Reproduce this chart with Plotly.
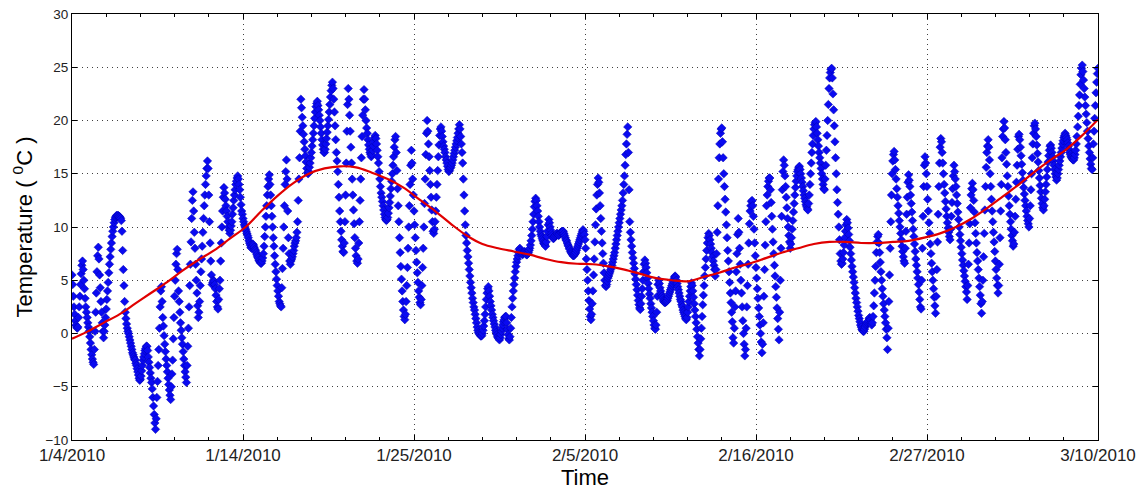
import pandas as pd
import plotly.graph_objects as go

# ---------------- data ----------------
START = "2010-01-04"

# hourly temperature readings (deg C), one row of 24 per day, 1/4/2010 .. 3/9/2010, plus 3/10 00:00
temp_days = [
    [5.5,4.6,3.5,2.5,1.8,1.2,0.8,0.6,0.5,0.6,1.5,2.5,3.5,4.6,5.6,6.4,6.8,6.0,5.0,4.2,3.3,2.5,2.0,1.5],
    [1.0,0.6,0.2,-0.3,-0.9,-1.5,-2.0,-2.4,-2.7,-2.9,-1.5,0.2,2.0,3.8,5.8,7.3,8.1,7.0,5.5,4.3,3.0,2.0,1.0,0.2],
    [-0.4,0.2,0.8,1.5,2.3,3.2,4.0,4.8,5.7,6.5,7.2,7.9,8.5,9.1,9.6,10.0,10.4,10.7,10.9,11.0,11.1,11.0,11.1,11.0],
    [11.0,10.9,10.8,10.6,9.6,7.8,6.0,4.5,3.0,2.0,1.4,0.9,0.5,0.2,0.0,-0.3,-0.6,-0.9,-1.2,-1.5,-1.8,-2.0,-2.2,-2.4],
    [-2.5,-2.8,-3.0,-3.3,-3.6,-3.9,-4.2,-4.4,-4.3,-4.0,-3.5,-3.0,-2.5,-2.2,-1.9,-1.6,-1.4,-1.2,-1.2,-1.6,-2.2,-2.7,-3.2,-3.7],
    [-4.2,-4.6,-5.2,-6.0,-6.8,-7.6,-8.4,-9.0,-8.0,-6.0,-4.5,-3.0,-1.5,0.5,2.5,4.0,4.4,3.0,1.5,0.7,-0.2,-1.0,-1.7,-2.4],
    [-3.0,-3.6,-4.2,-4.8,-5.3,-5.8,-6.2,-5.0,-3.8,-2.5,-0.5,1.5,3.5,5.0,6.5,7.5,7.9,6.0,4.0,3.0,2.0,1.0,0.3,-0.4],
    [-1.0,-1.7,-2.4,-3.0,-3.6,-4.1,-4.6,-3.0,-1.2,0.5,2.5,4.5,6.5,8.6,10.8,12.5,13.3,11.5,9.5,8.0,6.5,5.0,3.8,2.6],
    [1.5,2.0,3.0,4.5,5.8,7.0,8.2,9.5,10.8,12.0,13.0,14.0,14.8,15.5,16.2,15.5,13.0,10.5,8.5,6.8,5.5,4.6,4.8,5.0],
    [4.9,4.6,4.2,3.6,3.0,2.5,2.3,3.2,4.2,5.0,6.8,8.5,10.0,11.5,12.8,13.7,13.2,12.6,12.0,11.5,11.0,10.5,10.0,9.7],
    [9.4,9.7,10.1,10.5,11.2,11.8,12.5,13.0,13.5,14.0,14.3,14.6,14.8,14.5,14.0,13.5,12.8,12.1,11.5,11.2,10.8,10.5,10.2,10.0],
    [9.8,9.6,9.4,9.2,9.0,8.7,8.5,8.3,8.1,8.0,8.2,8.4,8.3,8.1,7.9,7.8,7.6,7.4,7.2,7.1,6.9,6.8,6.7,6.6],
    [6.6,6.8,7.1,7.5,8.2,9.1,10.0,11.0,12.0,13.0,13.8,14.5,14.9,14.0,13.0,12.0,11.0,10.0,9.0,8.2,7.3,6.5,5.8,5.1],
    [4.5,4.0,3.5,3.0,2.8,2.6,2.5,4.3,6.1,8.0,10.0,12.0,14.0,15.2,16.3,14.5,11.5,9.0,7.5,6.8,6.5,6.8,7.0,7.2],
    [7.5,7.8,8.2,8.5,8.7,9.0,9.5,10.5,12.5,14.5,16.5,19.0,22.0,21.2,20.3,19.5,18.7,18.0,17.3,16.7,16.1,15.5,15.1,15.0],
    [15.2,15.6,16.0,16.5,17.0,17.6,18.2,18.8,19.5,20.2,20.8,21.3,21.6,21.8,21.4,21.0,20.5,20.0,19.4,18.8,18.2,17.7,17.3,17.0],
    [17.0,17.3,17.8,18.3,18.9,19.5,20.1,20.8,21.5,22.2,22.8,23.3,23.6,23.0,22.0,20.8,19.5,18.2,17.0,16.2,15.2,14.0,12.8,11.5],
    [10.5,9.6,8.8,8.2,7.7,7.6,8.5,10.5,13.0,16.0,19.0,21.5,23.0,22.0,20.5,19.0,17.5,16.0,14.5,13.0,11.6,10.3,9.0,8.0],
    [7.3,6.8,6.6,7.0,8.5,10.5,12.5,14.5,16.5,18.5,20.5,22.0,22.9,22.0,21.0,20.0,19.3,18.8,18.2,17.7,17.3,17.0,16.8,16.6],
    [16.8,17.2,17.6,18.0,18.4,18.6,18.3,17.8,17.2,16.6,16.0,15.2,14.5,13.8,13.2,12.8,12.4,12.0,11.6,11.2,10.9,10.7,10.6,10.7],
    [10.9,11.3,11.8,12.3,12.9,13.6,14.3,15.0,15.8,16.6,17.5,18.2,18.5,17.0,15.3,13.6,12.0,10.5,9.0,7.6,6.3,5.1,4.0,3.0],
    [2.2,1.6,1.3,1.8,3.0,4.5,6.2,8.0,10.0,12.0,14.0,15.8,17.2,16.0,14.5,13.0,11.5,10.2,9.0,7.8,6.7,5.7,4.8,4.0],
    [3.4,2.9,2.7,3.2,4.5,6.2,8.0,10.0,12.2,14.5,16.8,18.8,20.0,19.0,17.8,16.6,15.3,14.0,12.8,11.6,10.5,9.6,9.4,9.8],
    [10.5,11.5,12.8,14.0,15.3,16.6,17.7,18.6,19.2,19.4,19.0,18.5,18.0,17.6,17.3,17.0,16.6,16.3,16.0,15.7,15.4,15.2,15.3,15.5],
    [15.6,15.8,16.0,16.3,16.6,16.9,17.2,17.5,17.8,18.1,18.4,18.8,19.2,19.6,19.2,18.5,17.8,17.0,16.0,14.5,13.0,11.5,10.2,9.2],
    [8.5,7.8,7.2,6.6,6.0,5.4,4.8,4.3,3.8,3.3,2.9,2.5,2.2,1.8,1.4,1.0,0.6,0.3,0.1,0.0,-0.1,-0.2,-0.25,-0.2],
    [0.0,0.3,0.7,1.2,1.8,2.5,3.2,3.8,4.2,4.4,4.0,3.5,3.0,2.6,2.2,1.8,1.5,1.2,0.9,0.6,0.3,0.1,-0.1,-0.3],
    [-0.4,-0.5,-0.6,-0.4,-0.1,0.2,0.5,0.8,1.1,1.3,1.5,1.6,1.6,1.0,0.4,-0.1,-0.5,-0.6,-0.3,0.5,1.5,2.5,3.3,4.0],
    [4.6,5.2,5.8,6.3,6.7,7.0,7.3,7.6,7.9,8.0,7.8,7.6,7.5,7.4,7.5,7.6,7.7,7.6,7.5,7.4,7.4,7.5,7.6,7.8],
    [8.0,8.3,8.7,9.2,9.8,10.5,11.2,11.9,12.4,12.7,12.5,12.0,11.5,11.0,10.5,10.0,9.6,9.3,9.1,8.9,8.7,8.5,8.4,8.3],
    [8.2,8.6,9.1,9.6,10.2,10.7,10.4,10.0,9.7,9.4,9.2,9.0,8.9,9.0,9.1,9.2,9.3,9.4,9.4,9.3,9.2,9.3,9.4,9.5],
    [9.5,9.6,9.6,9.6,9.4,9.2,9.0,8.8,8.7,8.5,8.3,8.2,8.0,7.9,7.7,7.6,7.5,7.4,7.3,7.3,7.4,7.5,7.6,7.8],
    [8.0,8.2,8.4,8.6,8.8,9.0,9.2,9.4,9.6,9.75,9.6,9.3,8.8,8.0,7.0,6.0,5.0,4.0,3.1,2.3,1.6,1.3,1.8,2.8],
    [4.0,5.5,7.0,8.6,10.2,11.7,13.0,14.0,14.6,14.2,13.2,12.0,10.8,9.6,8.5,7.5,6.6,5.7,5.0,4.5,4.4,4.6,4.9,5.2],
    [5.4,5.6,5.8,6.0,6.2,6.4,6.7,7.0,7.3,7.6,8.0,8.4,8.8,9.2,9.6,10.0,10.4,10.8,11.2,11.6,12.0,12.5,13.2,14.0],
    [14.8,15.8,16.8,17.8,18.7,19.4,17.0,13.5,10.5,9.5,8.8,8.2,7.6,7.1,6.6,6.1,5.6,5.1,4.6,4.1,3.6,3.1,2.7,2.4],
    [2.25,2.8,3.5,4.2,5.0,5.8,6.5,6.9,6.6,6.2,5.7,5.2,4.7,4.2,3.7,3.3,2.8,2.4,2.0,1.6,1.2,0.8,0.5,0.4],
    [0.8,2.0,3.5,4.6,5.0,4.7,4.3,4.0,3.7,3.5,3.3,3.1,3.0,2.9,2.9,3.0,3.0,3.1,3.3,3.5,3.7,3.9,4.1,4.3],
    [4.5,4.7,4.9,5.1,5.3,5.4,5.3,5.0,4.7,4.4,4.1,3.8,3.5,3.2,3.0,2.7,2.5,2.2,2.0,1.8,1.6,1.4,1.3,1.5],
    [2.0,2.5,3.0,3.5,4.0,4.4,4.75,4.5,4.0,3.4,2.8,2.2,1.6,1.0,0.4,-0.3,-0.9,-1.5,-2.1,-1.5,-0.5,0.5,1.6,2.7],
    [3.6,4.5,5.4,6.2,7.0,7.8,8.5,9.0,9.4,9.2,8.8,8.4,8.0,7.6,7.2,6.8,6.4,6.0,5.4,6.0,7.5,9.5,12.0,14.5],
    [16.5,17.8,18.8,19.2,19.3,18.0,16.5,15.0,13.8,12.6,11.4,10.2,9.0,7.8,6.8,5.8,4.8,3.8,2.9,2.0,1.1,-0.4,-0.9,0.5],
    [2.5,4.0,5.8,7.5,9.3,10.8,9.5,8.0,6.5,5.0,3.8,2.5,1.2,0.0,-1.0,-2.1,-1.5,0.5,2.5,4.5,6.5,8.5,10.3,11.5],
    [12.0,12.4,12.5,12.0,11.0,9.8,8.5,7.3,6.2,5.2,4.2,3.3,2.4,1.6,0.8,0.0,-0.8,-1.8,-1.0,1.0,3.5,6.0,8.3,10.5],
    [12.0,13.0,13.8,14.3,14.6,14.6,13.5,12.3,11.0,9.8,8.6,7.5,6.4,5.4,4.4,3.4,2.4,1.4,0.4,-0.6,2.0,5.0,8.0,11.0],
    [13.5,15.2,16.3,15.8,14.8,13.8,12.8,11.8,10.8,10.0,9.2,8.6,8.0,8.4,9.0,9.8,10.6,11.4,12.2,13.0,13.7,14.3,14.8,15.2],
    [15.4,15.6,15.7,15.4,15.0,14.6,14.2,13.8,13.4,13.0,12.7,12.4,12.1,11.9,11.7,11.6,12.2,13.0,14.0,15.0,16.0,17.0,17.8,18.6],
    [19.2,19.6,19.8,19.9,19.4,18.8,18.2,17.6,17.0,16.5,16.0,15.5,15.0,14.5,14.0,13.6,13.5,14.5,15.8,17.2,18.6,20.0,21.5,23.0],
    [24.0,24.5,24.8,24.9,24.0,22.5,21.0,19.5,18.0,16.5,15.0,13.5,12.3,11.2,10.0,8.8,7.5,6.8,6.5,6.6,7.0,7.6,8.3,9.0],
    [9.6,10.2,10.7,10.4,9.9,9.3,8.7,8.1,7.5,6.9,6.3,5.8,5.3,4.8,4.3,3.8,3.3,2.9,2.5,2.1,1.7,1.4,1.1,0.8],
    [0.6,0.4,0.3,0.2,0.2,0.4,0.6,0.8,0.9,1.0,1.1,1.2,1.4,1.5,1.3,1.0,0.8,1.0,1.6,2.6,3.8,5.0,6.3,7.6],
    [8.6,9.1,9.3,8.5,7.6,6.7,5.8,5.0,4.2,3.5,2.8,2.2,1.6,1.0,0.4,-0.4,-1.5,0.5,3.0,5.5,8.0,10.5,13.0,15.0],
    [16.2,16.8,17.1,16.3,15.4,14.5,13.6,12.8,12.0,11.3,10.6,10.0,9.4,8.8,8.2,7.7,7.2,6.8,6.6,8.0,9.6,11.2,12.8,14.2],
    [14.9,14.4,13.8,13.0,12.2,11.4,10.6,9.8,9.1,8.4,7.7,7.0,6.4,5.8,5.2,4.6,3.9,3.2,2.5,2.3,5.0,8.0,11.0,13.8],
    [15.8,16.6,16.0,15.0,13.8,12.6,11.5,10.4,9.4,8.4,7.5,6.6,5.8,5.0,4.2,3.4,2.6,1.9,3.5,6.0,8.6,11.2,13.8,16.0],
    [17.5,18.3,18.0,17.0,16.0,15.0,14.0,13.2,12.4,11.7,11.0,10.4,9.9,9.5,9.1,8.8,9.8,11.0,12.3,13.6,14.8,15.8,15.2,14.5],
    [13.8,13.0,12.2,11.4,10.7,10.0,9.3,8.7,8.1,7.5,6.9,6.4,5.9,5.4,4.9,4.4,3.9,3.2,4.5,6.5,8.5,10.3,11.8,13.0],
    [13.6,14.1,13.5,12.5,11.4,10.4,9.4,8.5,7.6,6.8,6.0,5.2,4.4,3.6,2.8,1.9,3.0,5.0,7.2,9.4,11.6,13.8,15.6,17.0],
    [17.6,18.2,17.5,16.3,15.0,13.8,12.6,11.5,10.5,9.5,8.6,7.7,6.8,6.0,5.2,4.5,3.8,4.5,6.5,9.0,11.5,14.0,16.5,18.5],
    [19.2,19.9,19.3,18.2,17.0,15.9,14.8,13.8,12.9,12.0,11.2,10.5,9.8,9.2,8.7,8.2,8.4,9.5,11.0,12.6,14.2,15.8,17.3,18.5],
    [18.7,18.2,17.5,16.7,15.9,15.1,14.4,13.7,13.1,12.5,12.0,11.5,11.0,10.6,10.3,10.0,10.8,12.0,13.5,15.0,16.5,17.8,18.8,19.5],
    [19.75,19.2,18.5,17.7,16.9,16.1,15.3,14.6,13.9,13.3,12.7,12.2,11.8,11.6,12.0,12.6,13.3,14.0,14.7,15.4,16.1,16.7,17.2,17.6],
    [17.7,17.4,17.0,16.6,16.2,15.8,15.4,15.0,14.7,14.4,14.6,15.0,15.4,15.8,16.2,16.6,17.0,17.4,17.8,18.1,18.4,18.6,18.8,18.6],
    [18.4,18.2,17.9,17.6,17.3,17.0,16.8,16.6,16.5,16.4,16.3,16.3,16.5,16.8,17.2,17.8,18.5,19.4,20.4,21.4,22.4,23.4,24.3,24.9],
    [25.2,24.6,23.8,23.0,22.2,21.4,20.6,19.8,19.0,18.3,17.6,17.0,16.4,15.9,15.5,15.4,16.5,17.8,19.0,20.2,21.4,22.6,23.6,24.4],
    [24.9],
]

# smoothed trend (red curve), one value per day from 1/4 to 3/10
trend = [
    -0.5, 0.2, 1.0, 1.8, 2.8, 3.8, 4.8, 5.9, 6.9, 7.8,
    8.9, 10.0, 11.5, 12.9, 14.1, 15.0, 15.5, 15.7, 15.6, 15.1,
    14.5, 13.7, 12.6, 11.5, 10.3, 9.2, 8.4, 8.0, 7.7, 7.4,
    7.0, 6.7, 6.55, 6.5, 6.3, 6.0, 5.6, 5.2, 5.0, 4.9,
    5.3, 5.7, 6.2, 6.6, 7.1, 7.6, 8.0, 8.4, 8.6, 8.6,
    8.5, 8.5, 8.6, 8.7, 9.0, 9.4, 10.0, 10.8, 11.8, 12.9,
    14.0, 15.2, 16.3, 17.3, 18.6, 20.1,
]

x_tick_labels = ["1/4/2010", "1/14/2010", "1/25/2010", "2/5/2010",
                 "2/16/2010", "2/27/2010", "3/10/2010"]
y_range = [-10, 30]

# ---------------- build ----------------
start = pd.Timestamp(START)
t_temp, temps = [], []
for d, day in enumerate(temp_days):
    for h, v in enumerate(day):
        t_temp.append(start + pd.Timedelta(days=d, hours=h))
        temps.append(v)
t_trend = [start + pd.Timedelta(days=i) for i in range(len(trend))]

end = start + pd.Timedelta(days=len(temp_days) - 1)
span = end - start
n_major = len(x_tick_labels) - 1
major = [start + span * k / n_major for k in range(n_major + 1)]
minor = [start + span * k / (n_major * 5) for k in range(n_major * 5 + 1)]

fig = go.Figure()
fig.add_trace(go.Scatter(
    x=t_temp, y=temps, mode="markers",
    marker=dict(symbol="diamond", size=6.5, color="#0a0af0",
                line=dict(width=0.5, color="#0000b0")),
    showlegend=False,
))
fig.add_trace(go.Scatter(
    x=t_trend, y=trend, mode="lines", line_shape="spline",
    line=dict(color="#e00000", width=2.2),
    showlegend=False,
))

grid = dict(showgrid=True, gridcolor="rgba(0,0,0,0.75)", gridwidth=1, griddash="1px,4px")
axis_common = dict(
    showline=True, linecolor="black", linewidth=1, mirror="ticks",
    ticks="inside", ticklen=5, tickcolor="black", zeroline=False, **grid,
)

fig.update_xaxes(
    type="date", range=[start, end],
    tickmode="array", tickvals=major, ticktext=x_tick_labels,
    tickfont=dict(family="Liberation Sans Narrow, Arial Narrow, Liberation Sans, Arial",
                  size=17, color="#222222"),
    minor=dict(tickmode="array", tickvals=minor, ticks="inside", ticklen=3,
               tickcolor="black", showgrid=False),
    title=dict(text="Time", standoff=4,
               font=dict(family="Liberation Sans, Arial", size=22, color="black")),
    automargin=False,
    **axis_common,
)
fig.update_yaxes(
    range=y_range, tickmode="linear", tick0=-10, dtick=5,
    tickfont=dict(family="Liberation Sans, Arial", size=13.5, color="#222222"),
    title=dict(text="Temperature ( <sup>0</sup>C )", standoff=6,
               font=dict(family="Liberation Sans, Arial", size=22, color="black")),
    automargin=False,
    **axis_common,
)

fig.update_layout(
    width=1143, height=493,
    margin=dict(l=72, r=45, t=14, b=53),
    paper_bgcolor="white", plot_bgcolor="white",
    showlegend=False,
)

fig.write_html("out.html")
